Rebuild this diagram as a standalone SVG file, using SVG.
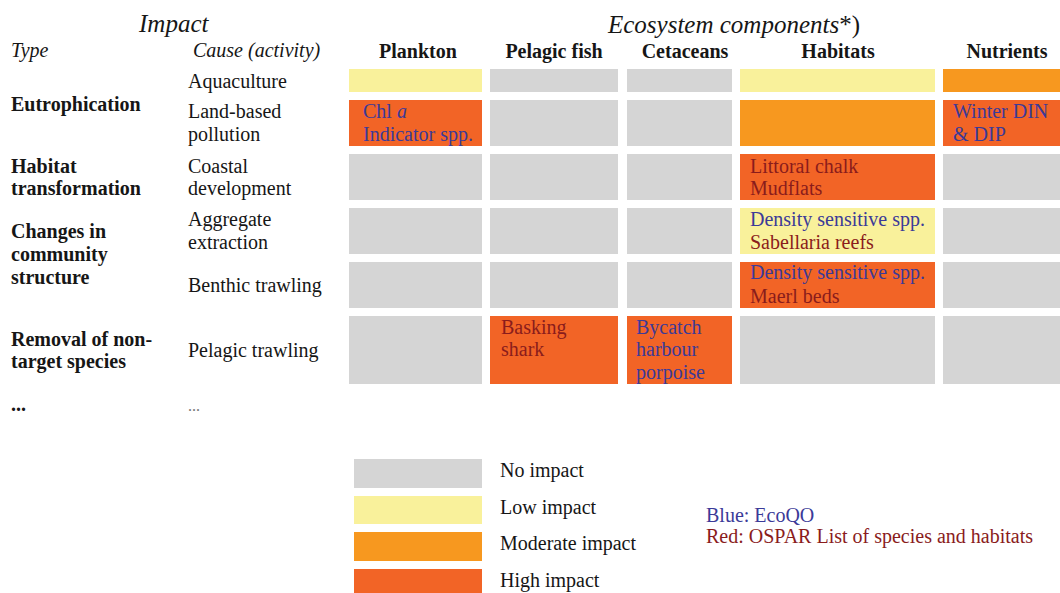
<svg xmlns="http://www.w3.org/2000/svg" width="1060" height="593" viewBox="0 0 1060 593">
<style>
text{font-family:"Liberation Serif",serif;font-size:20px;fill:#161616}
.it{font-style:italic}
.big{font-size:25px}
.b{font-weight:bold}
.hd{font-weight:bold;text-anchor:middle}
.bl{fill:#3b3a98}
.rd{fill:#8a1c1c}
.dots{fill:#777;font-size:16px}
.n{fill:#d5d5d5}
.l{fill:#f9f19b}
.m{fill:#f7981f}
.h{fill:#f26426}
</style>
<rect width="1060" height="593" fill="#ffffff"/>
<g id="headers">
<text class="it big" x="139" y="32">Impact</text>
<text class="it big" x="608" y="33">Ecosystem components<tspan font-style="normal">*)</tspan></text>
<text class="it" x="11" y="57">Type</text>
<text class="it" x="193" y="57">Cause (activity)</text>
<text class="hd" x="418" y="58">Plankton</text>
<text class="hd" x="554" y="58">Pelagic fish</text>
<text class="hd" x="685" y="58">Cetaceans</text>
<text class="hd" x="838" y="58">Habitats</text>
<text class="hd" x="1007" y="58">Nutrients</text>
</g>
<g id="impact-types">
<text class="b" x="11" y="111">Eutrophication</text>
<text class="b" x="11" y="173">Habitat</text>
<text class="b" x="11" y="195">transformation</text>
<text class="b" x="11" y="238">Changes in</text>
<text class="b" x="11" y="261">community</text>
<text class="b" x="11" y="284">structure</text>
<text class="b" x="11" y="346">Removal of non-</text>
<text class="b" x="11" y="368">target species</text>
<text class="b" x="11" y="411">...</text>
</g>
<g id="causes">
<text x="188" y="88">Aquaculture</text>
<text x="188" y="118">Land-based</text>
<text x="188" y="141">pollution</text>
<text x="188" y="173">Coastal</text>
<text x="188" y="195">development</text>
<text x="188" y="226">Aggregate</text>
<text x="188" y="249">extraction</text>
<text x="188" y="292">Benthic trawling</text>
<text x="188" y="357">Pelagic trawling</text>
<text class="dots" x="188" y="411">...</text>
</g>
<g id="row-aquaculture">
<rect class="l" x="349" y="69" width="133" height="23"/>
<rect class="n" x="490" y="69" width="128" height="23"/>
<rect class="n" x="627" y="69" width="105" height="23"/>
<rect class="l" x="740" y="69" width="195" height="23"/>
<rect class="m" x="943" y="69" width="120" height="23"/>
</g>
<g id="row-land-based">
<rect class="h" x="349" y="100" width="133" height="46"/>
<rect class="n" x="490" y="100" width="128" height="46"/>
<rect class="n" x="627" y="100" width="105" height="46"/>
<rect class="m" x="740" y="100" width="195" height="46"/>
<rect class="h" x="943" y="100" width="120" height="46"/>
<text class="bl" x="363" y="118">Chl <tspan font-style="italic">a</tspan></text>
<text class="bl" x="363" y="141">Indicator spp.</text>
<text class="bl" x="953" y="118">Winter DIN</text>
<text class="bl" x="953" y="141">&amp; DIP</text>
</g>
<g id="row-coastal">
<rect class="n" x="349" y="154" width="133" height="46"/>
<rect class="n" x="490" y="154" width="128" height="46"/>
<rect class="n" x="627" y="154" width="105" height="46"/>
<rect class="h" x="740" y="154" width="195" height="46"/>
<rect class="n" x="943" y="154" width="120" height="46"/>
<text class="rd" x="750" y="173">Littoral chalk</text>
<text class="rd" x="750" y="195">Mudflats</text>
</g>
<g id="row-aggregate">
<rect class="n" x="349" y="208" width="133" height="46"/>
<rect class="n" x="490" y="208" width="128" height="46"/>
<rect class="n" x="627" y="208" width="105" height="46"/>
<rect class="l" x="740" y="208" width="195" height="46"/>
<rect class="n" x="943" y="208" width="120" height="46"/>
<text class="bl" x="750" y="226">Density sensitive spp.</text>
<text class="rd" x="750" y="249">Sabellaria reefs</text>
</g>
<g id="row-benthic">
<rect class="n" x="349" y="262" width="133" height="46"/>
<rect class="n" x="490" y="262" width="128" height="46"/>
<rect class="n" x="627" y="262" width="105" height="46"/>
<rect class="h" x="740" y="262" width="195" height="46"/>
<rect class="n" x="943" y="262" width="120" height="46"/>
<text class="bl" x="750" y="279">Density sensitive spp.</text>
<text class="rd" x="750" y="303">Maerl beds</text>
</g>
<g id="row-pelagic">
<rect class="n" x="349" y="316" width="133" height="68"/>
<rect class="h" x="490" y="316" width="128" height="68"/>
<rect class="h" x="627" y="316" width="105" height="68"/>
<rect class="n" x="740" y="316" width="195" height="68"/>
<rect class="n" x="943" y="316" width="120" height="68"/>
<text class="rd" x="501" y="334">Basking</text>
<text class="rd" x="501" y="356">shark</text>
<text class="bl" x="636" y="334">Bycatch</text>
<text class="bl" x="636" y="356">harbour</text>
<text class="bl" x="636" y="379">porpoise</text>
</g>
<g id="legend">
<rect class="n" x="354" y="459" width="128" height="29"/>
<rect class="l" x="354" y="496" width="128" height="28"/>
<rect class="m" x="354" y="532" width="128" height="29"/>
<rect class="h" x="354" y="569" width="128" height="30"/>
<text x="500" y="477">No impact</text>
<text x="500" y="514">Low impact</text>
<text x="500" y="550">Moderate impact</text>
<text x="500" y="587">High impact</text>
<text class="bl" x="706" y="522">Blue: EcoQO</text>
<text class="rd" x="706" y="543">Red: OSPAR List of species and habitats</text>
</g>
</svg>
